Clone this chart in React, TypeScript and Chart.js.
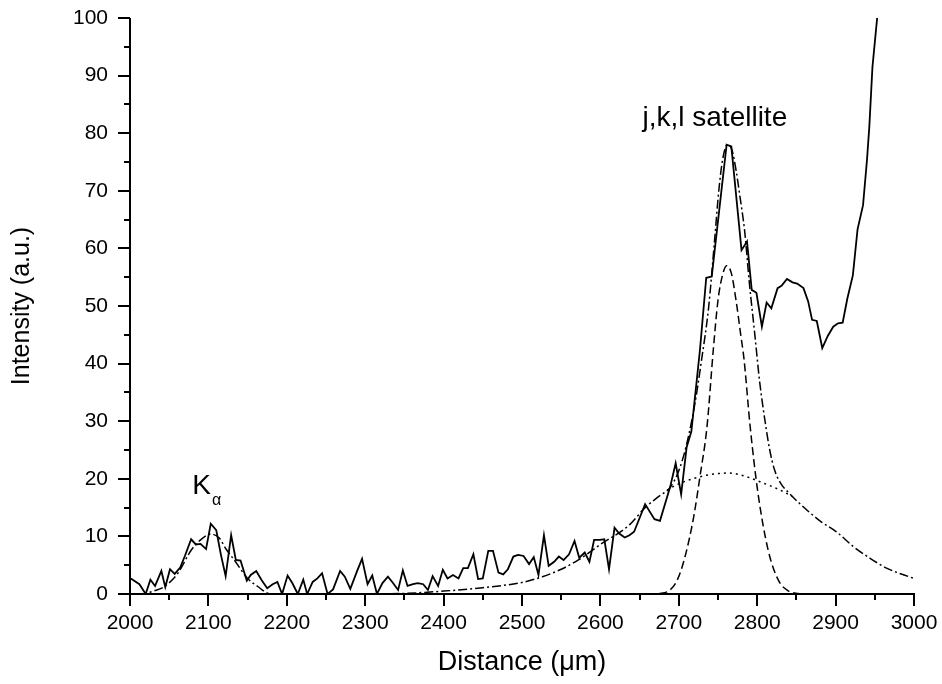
import React, { useEffect, useRef } from "react";
import { Chart, registerables } from "chart.js";

Chart.register(...registerables);

// Measured intensity profile [distance µm, intensity]
const measured: [number, number][] = [
  [2001, 2.7], [2012, 1.7], [2020, 0], [2026, 2.5], [2032, 1.4], [2040, 4.0], [2045, 1.2], [2051, 4.3],
  [2057, 3.5], [2064, 4.6], [2070, 6.6], [2078, 9.5], [2084, 8.6], [2090, 8.7], [2097, 7.8], [2103, 12.2],
  [2110, 11.1], [2116, 6.8], [2122, 3.1], [2129, 10.2], [2135, 5.9], [2141, 5.8], [2149, 2.3], [2154, 3.3],
  [2161, 4.0], [2168, 2.4], [2175, 1.0], [2182, 1.7], [2188, 2.1], [2194, 0], [2201, 3.2], [2207, 1.9],
  [2214, 0], [2221, 2.5], [2226, 0], [2233, 2.1], [2239, 2.7], [2245, 3.6], [2252, 0], [2259, 0.8],
  [2268, 4.0], [2274, 3.0], [2281, 0.9], [2290, 4.1], [2296, 6.1], [2303, 1.7], [2309, 3.2], [2315, 0],
  [2322, 1.9], [2329, 3.0], [2335, 2.0], [2342, 0.7], [2348, 4.1], [2354, 1.4], [2361, 1.7], [2367, 1.9],
  [2374, 1.7], [2380, 0.7], [2386, 3.1], [2393, 1.4], [2399, 4.2], [2405, 2.7], [2412, 3.3], [2419, 2.7],
  [2425, 4.5], [2431, 4.5], [2438, 6.9], [2444, 2.6], [2450, 2.7], [2457, 7.5], [2463, 7.5], [2470, 3.7],
  [2476, 3.4], [2482, 4.3], [2489, 6.5], [2495, 6.8], [2502, 6.6], [2509, 5.2], [2515, 6.4], [2521, 3.3],
  [2528, 10.2], [2534, 4.9], [2541, 5.6], [2547, 6.5], [2553, 5.9], [2560, 6.9], [2567, 9.2], [2573, 6.3],
  [2580, 7.2], [2586, 5.6], [2592, 9.4], [2599, 9.4], [2605, 9.5], [2611, 4.3], [2618, 11.5], [2624, 10.5],
  [2631, 9.8], [2637, 10.2], [2643, 10.8], [2657, 15.6], [2669, 13.0], [2676, 12.7], [2689, 18.6], [2696, 22.7],
  [2703, 17.3], [2710, 25.5], [2716, 28.2], [2727, 42.4], [2735, 54.9], [2742, 55.1], [2761, 78.0], [2767, 77.7],
  [2780, 59.7], [2787, 61.2], [2793, 52.8], [2799, 52.3], [2806, 46.4], [2812, 50.6], [2818, 49.6], [2826, 53.1],
  [2831, 53.5], [2838, 54.7], [2845, 54.1], [2851, 53.9], [2859, 53.1], [2865, 50.8], [2870, 47.6], [2876, 47.4],
  [2883, 42.7], [2890, 44.8], [2897, 46.4], [2903, 47.0], [2909, 47.1], [2915, 51.3], [2922, 55.3], [2928, 63.3],
  [2935, 67.5], [2940, 75.3], [2943, 81.1], [2947, 91.5], [2953, 100], [2956, 106],
];

// Total fit (dash-dot)
const totalFit: [number, number][] = [
  [2010, 0], [2020, 0.1], [2030, 0.5], [2044, 1.3], [2061, 3.6], [2078, 7.6], [2090, 9.4], [2103, 10.4],
  [2114, 9.7], [2122, 7.9], [2133, 5.9], [2150, 2.7], [2163, 1.3], [2175, 0.2], [2190, 0], [2250, 0],
  [2300, 0], [2350, 0.1], [2400, 0.5], [2450, 1.1], [2500, 2.0], [2526, 3.0], [2550, 4.3], [2573, 6.0],
  [2600, 8.6], [2637, 12.0], [2657, 15.0], [2675, 17.0], [2689, 18.5], [2700, 21.4], [2710, 26.0], [2721, 33.4],
  [2729, 40.6], [2738, 49.7], [2746, 62.0], [2751, 70.0], [2756, 75.5], [2762, 78.0], [2768, 77.0], [2773, 73.6],
  [2778, 69.0], [2784, 63.0], [2790, 54.0], [2797, 45.0], [2803, 37.0], [2810, 30.0], [2816, 25.0], [2822, 21.6],
  [2830, 19.2], [2840, 17.6], [2855, 15.6], [2880, 12.7], [2901, 10.8], [2923, 8.2], [2944, 6.2], [2965, 4.5],
  [3000, 2.7],
];

// Narrow satellite component (dashed)
const narrowFit: [number, number][] = [
  [2660, 0], [2675, 0.1], [2688, 0.6], [2698, 2.4], [2708, 6.5], [2719, 13.4], [2727, 20.4], [2736, 29.1],
  [2744, 42.4], [2750, 51.0], [2756, 55.5], [2761, 57.0], [2767, 55.7], [2773, 51.0], [2779, 45.0], [2783, 41.0],
  [2791, 29.1], [2801, 17.5], [2814, 7.6], [2827, 2.4], [2839, 0.6], [2852, 0.1], [2865, 0],
];

// Broad component (dotted)
const broadFit: [number, number][] = [
  [2685, 18.0], [2695, 18.8], [2705, 19.4], [2720, 20.1], [2735, 20.6], [2750, 20.9], [2762, 21.0],
  [2775, 20.8], [2790, 20.2], [2805, 19.4], [2820, 18.6], [2833, 17.8], [2845, 16.9],
];

const xMajorTicks = [2000, 2100, 2200, 2300, 2400, 2500, 2600, 2700, 2800, 2900, 3000];
const xMinorTicks = [2050, 2150, 2250, 2350, 2450, 2550, 2650, 2750, 2850, 2950];
const yMajorTicks = [0, 10, 20, 30, 40, 50, 60, 70, 80, 90, 100];
const yMinorTicks = [5, 15, 25, 35, 45, 55, 65, 75, 85, 95];

const FONT = "'Liberation Sans', Arial, Helvetica, sans-serif";

const toPts = (arr: [number, number][]) => arr.map(([x, y]) => ({ x, y }));

const decorPlugin = {
  id: "decor",
  afterDatasetsDraw(chart: any) {
    const { ctx, chartArea, scales } = chart;
    const xs = scales.x;
    const ys = scales.y;
    ctx.save();
    ctx.strokeStyle = "#000";
    ctx.lineWidth = 2;
    ctx.lineCap = "butt";
    ctx.beginPath();
    ctx.moveTo(chartArea.left, chartArea.top);
    ctx.lineTo(chartArea.left, chartArea.bottom + 1);
    ctx.moveTo(chartArea.left - 1, chartArea.bottom);
    ctx.lineTo(chartArea.right + 1, chartArea.bottom);
    ctx.stroke();
    ctx.beginPath();
    const major = 12;
    const minor = 6;
    xMajorTicks.forEach((v) => {
      const p = Math.round(xs.getPixelForValue(v));
      ctx.moveTo(p, chartArea.bottom);
      ctx.lineTo(p, chartArea.bottom + major);
    });
    xMinorTicks.forEach((v) => {
      const p = Math.round(xs.getPixelForValue(v));
      ctx.moveTo(p, chartArea.bottom);
      ctx.lineTo(p, chartArea.bottom + minor);
    });
    yMajorTicks.forEach((v) => {
      const p = Math.round(ys.getPixelForValue(v));
      ctx.moveTo(chartArea.left, p);
      ctx.lineTo(chartArea.left - major, p);
    });
    yMinorTicks.forEach((v) => {
      const p = Math.round(ys.getPixelForValue(v));
      ctx.moveTo(chartArea.left, p);
      ctx.lineTo(chartArea.left - minor, p);
    });
    ctx.stroke();

    ctx.fillStyle = "#000";
    // axis titles
    ctx.textAlign = "center";
    ctx.textBaseline = "middle";
    ctx.font = `27px ${FONT}`;
    ctx.fillText("Distance (\u03bcm)", (chartArea.left + chartArea.right) / 2, 663);
    ctx.font = `25px ${FONT}`;
    ctx.save();
    ctx.translate(22, (chartArea.top + chartArea.bottom) / 2);
    ctx.rotate(-Math.PI / 2);
    ctx.fillText("Intensity (a.u.)", 0, 0);
    ctx.restore();

    // annotations
    ctx.textBaseline = "alphabetic";
    ctx.font = `28px ${FONT}`;
    ctx.textAlign = "center";
    ctx.fillText("j,k,l satellite", xs.getPixelForValue(2746), ys.getPixelForValue(81.2));

    const kx = xs.getPixelForValue(2098);
    const ky = ys.getPixelForValue(17.4);
    ctx.textAlign = "left";
    ctx.font = `28px ${FONT}`;
    const kw = ctx.measureText("K").width;
    ctx.font = `16px ${FONT}`;
    const aw = ctx.measureText("\u03b1").width;
    const start = kx - (kw + 1 + aw) / 2;
    ctx.font = `28px ${FONT}`;
    ctx.fillText("K", start, ky);
    ctx.font = `16px ${FONT}`;
    ctx.fillText("\u03b1", start + kw + 1, ky + 11);
    ctx.restore();
  },
};

export default function App() {
  const ref = useRef<HTMLCanvasElement | null>(null);
  useEffect(() => {
    if (!ref.current) return;
    const chart = new Chart(ref.current, {
      type: "scatter",
      data: {
        datasets: [
          {
            label: "measured",
            data: toPts(measured),
            showLine: true,
            borderColor: "#000",
            borderWidth: 1.8,
            pointRadius: 0,
            tension: 0,
            order: 0,
          },
          {
            label: "total fit",
            data: toPts(totalFit),
            showLine: true,
            borderColor: "#000",
            borderWidth: 1.5,
            borderDash: [9, 3, 2, 3],
            pointRadius: 0,
            cubicInterpolationMode: "monotone",
            order: 1,
          },
          {
            label: "narrow",
            data: toPts(narrowFit),
            showLine: true,
            borderColor: "#000",
            borderWidth: 1.5,
            borderDash: [8, 4],
            pointRadius: 0,
            cubicInterpolationMode: "monotone",
            order: 2,
          },
          {
            label: "broad",
            data: toPts(broadFit),
            showLine: true,
            borderColor: "#000",
            borderWidth: 1.5,
            borderDash: [2, 4],
            pointRadius: 0,
            cubicInterpolationMode: "monotone",
            order: 3,
          },
        ],
      },
      options: {
        animation: false,
        responsive: false,
        devicePixelRatio: 1,
        events: [],
        layout: { padding: { top: 18, right: 28, left: 0, bottom: 0 } },
        plugins: { legend: { display: false }, tooltip: { enabled: false } },
        scales: {
          x: {
            type: "linear",
            min: 2000,
            max: 3000,
            afterFit: (s: any) => {
              s.height = 90;
              s.paddingLeft = 0;
              s.paddingRight = 0;
              s.paddingTop = 0;
              s.paddingBottom = 0;
            },
            afterBuildTicks: (s: any) => {
              s.ticks = xMajorTicks.map((v) => ({ value: v }));
            },
            grid: { display: false, drawTicks: false },
            border: { display: false },
            ticks: {
              padding: 17,
              color: "#000",
              maxRotation: 0,
              autoSkip: false,
              font: { family: FONT, size: 21 },
              callback: (v: any) => String(v),
            },
          },
          y: {
            type: "linear",
            min: 0,
            max: 100,
            afterFit: (s: any) => {
              s.width = 130;
              s.paddingLeft = 0;
              s.paddingRight = 0;
              s.paddingTop = 0;
              s.paddingBottom = 0;
            },
            afterBuildTicks: (s: any) => {
              s.ticks = yMajorTicks.map((v) => ({ value: v }));
            },
            grid: { display: false, drawTicks: false },
            border: { display: false },
            ticks: {
              padding: 22,
              color: "#000",
              autoSkip: false,
              font: { family: FONT, size: 21 },
              callback: (v: any) => String(v),
            },
          },
        },
      },
      plugins: [decorPlugin],
    });
    return () => chart.destroy();
  }, []);
  return (
    <div style={{ position: "fixed", left: 0, top: 0, width: 942, height: 684, background: "#fff" }}>
      <canvas ref={ref} width={942} height={684} style={{ display: "block", width: 942, height: 684 }} />
    </div>
  );
}
